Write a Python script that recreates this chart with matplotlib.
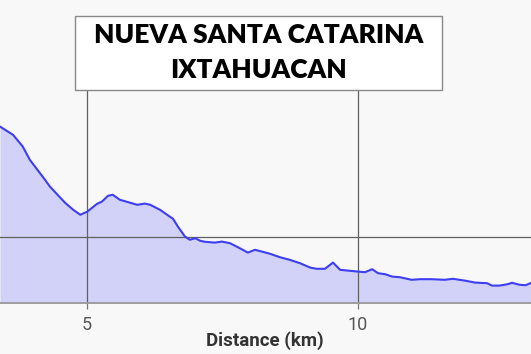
import matplotlib
matplotlib.use("Agg")
import matplotlib.pyplot as plt
from matplotlib.patches import Rectangle

# elevation profile (distance in km, elevation in m)
distance_km = [3.40, 3.64, 3.82, 3.95, 4.23, 4.32, 4.60, 4.75, 4.88, 5.01,
               5.19, 5.28, 5.39, 5.48, 5.61, 5.74, 5.93, 6.07, 6.17, 6.35,
               6.53, 6.59, 6.68, 6.81, 6.90, 7.00, 7.09, 7.18, 7.36, 7.49,
               7.64, 7.82, 7.97, 8.10, 8.23, 8.38, 8.56, 8.74, 8.93, 9.12,
               9.24, 9.39, 9.54, 9.67, 9.85, 10.00, 10.13, 10.26, 10.37, 10.50,
               10.63, 10.77, 10.99, 11.14, 11.36, 11.60, 11.75, 11.97, 12.16, 12.38,
               12.47, 12.61, 12.76, 12.84, 12.98, 13.09, 13.18]
elevation_m = [2550, 2509, 2450, 2384, 2284, 2250, 2169, 2134, 2109, 2125,
               2164, 2175, 2204, 2209, 2184, 2174, 2159, 2165, 2159, 2134,
               2100, 2089, 2050, 2000, 1984, 1992, 1979, 1974, 1970, 1975,
               1967, 1942, 1920, 1934, 1925, 1914, 1897, 1884, 1867, 1845,
               1839, 1839, 1870, 1834, 1829, 1825, 1822, 1837, 1817, 1812,
               1800, 1797, 1784, 1787, 1787, 1784, 1789, 1780, 1770, 1767,
               1755, 1755, 1762, 1769, 1759, 1757, 1767]
x_ticks = [5, 10]
y_ticks = [2000]
title_lines = ["NUEVA SANTA CATARINA", "IXTAHUACAN"]

W, H = 531, 354
fig = plt.figure(figsize=(W / 100, H / 100), dpi=100, facecolor="#f8f8f8")
ax = fig.add_axes([0, 1 - 303 / H, 1, (303 - 50) / H])
ax.set_facecolor("#f8f8f8")

ymin = 1668
ax.fill_between(distance_km, elevation_m, ymin, color="#d2d2f8", lw=0, zorder=1)
ax.plot(distance_km, elevation_m, color="#3d3df2", lw=1.5, zorder=3,
        solid_joinstyle="round")

ax.set_xlim(3.40, 13.19)
ax.set_ylim(ymin, 2933)
ax.set_xticks(x_ticks)
ax.set_yticks(y_ticks)
ax.set_yticklabels([])
ax.grid(True, color="#606060", lw=0.9)
for l in ax.get_xgridlines() + ax.get_ygridlines():
    l.set_zorder(2)

for s in ["top", "left", "right"]:
    ax.spines[s].set_visible(False)
ax.spines["bottom"].set_color("#999999")
ax.spines["bottom"].set_linewidth(1.3)
ax.spines["bottom"].set_zorder(4)
ax.tick_params(axis="x", length=4, width=0.9, color="#777777", pad=5,
               labelsize=13, labelcolor="#555555")
ax.tick_params(axis="y", length=0)
for t in ax.get_xticklabels():
    t.set_fontfamily("Roboto")

fig.text(265 / W, 1 - 341 / H, "Distance (km)", ha="center", va="center",
         fontsize=13.5, fontweight="bold", family="Roboto", color="#333333")

# title box
box = Rectangle((75 / W, 1 - 90 / H), (442 - 75) / W, (90 - 15.7) / H,
                transform=fig.transFigure, facecolor="white", edgecolor="#888888",
                lw=1.0, zorder=10)
fig.patches.append(box)
fig.text(259 / W, 1 - 35 / H, title_lines[0], ha="center", va="center",
         fontsize=19, fontweight="heavy", family="Lato", color="black", zorder=11)
fig.text(259 / W, 1 - 70.5 / H, title_lines[1], ha="center", va="center",
         fontsize=19, fontweight="heavy", family="Lato", color="black", zorder=11)

fig.savefig("out.png", dpi=100, facecolor=fig.get_facecolor())
